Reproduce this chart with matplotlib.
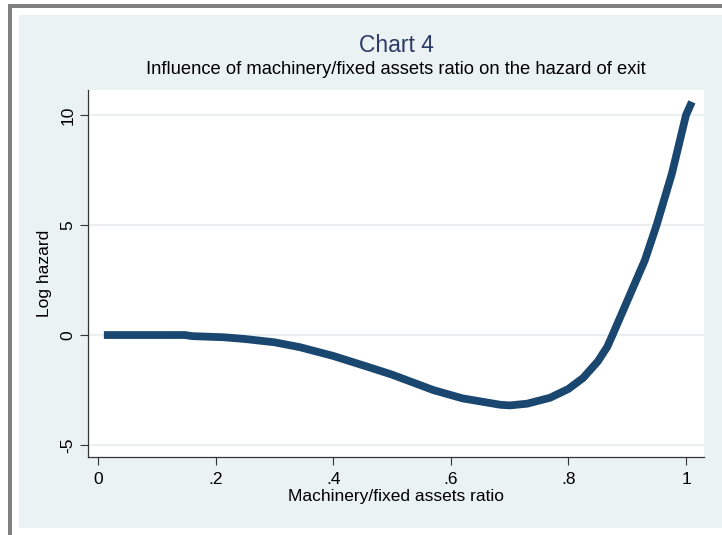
import numpy as np
import matplotlib.pyplot as plt
from matplotlib.patches import Rectangle

# datos (ratio maquinaria / activos fijos vs log hazard)
ratio = [0.01, 0.05, 0.10, 0.148, 0.16, 0.213, 0.25, 0.30, 0.343, 0.40, 0.457,
         0.50, 0.57, 0.62, 0.684, 0.70, 0.73, 0.769, 0.80, 0.825, 0.85, 0.866,
         0.875, 0.908, 0.93, 0.95, 0.976, 1.00, 1.01]
log_hazard = [0.0, 0.0, 0.0, 0.0, -0.05, -0.1, -0.18, -0.33, -0.55, -0.95, -1.43,
              -1.8, -2.5, -2.88, -3.17, -3.2, -3.12, -2.85, -2.45, -1.95, -1.2, -0.54,
              0.0, 2.04, 3.4, 5.0, 7.34, 10.0, 10.6]

x_ticks = [0, 0.2, 0.4, 0.6, 0.8, 1.0]
x_tick_labels = ['0', '.2', '.4', '.6', '.8', '1']
y_ticks = [-5, 0, 5, 10]

plt.rcParams['font.family'] = ['Liberation Sans', 'DejaVu Sans']

W, H = 722, 535
fig = plt.figure(figsize=(W / 100, H / 100), dpi=100)
fig.patch.set_facecolor('white')

# marco gris y fondo azul claro (coordenadas en pixeles)
def px_rect(x0, y0, x1, y1, color):
    fig.patches.append(Rectangle((x0 / W, 1 - y1 / H), (x1 - x0) / W, (y1 - y0) / H,
                                 transform=fig.transFigure, color=color, lw=0, zorder=-5))

px_rect(19, 15, 722, 528, '#eaf2f3')
px_rect(8, 4, 722, 8, '#808080')
px_rect(8, 4, 12, 535, '#808080')

ax = fig.add_axes([88 / W, 1 - 457 / H, (704 - 88) / W, (457 - 90) / H])
ax.set_zorder(5)
ax.set_facecolor('white')

ax.plot(ratio, log_hazard, color='#1a476f', lw=5.6, solid_capstyle='butt',
        solid_joinstyle='round', zorder=3)

ax.set_xlim(-0.017, 1.0306)
ax.set_ylim(-5.545, 11.14)
ax.set_xticks(x_ticks)
ax.set_xticklabels(x_tick_labels)
ax.set_yticks(y_ticks)
ax.set_yticklabels([str(v) for v in y_ticks], rotation=90, va='center')
ax.grid(axis='y', color='#e6eeef', lw=1.2, zorder=1)

for s in ['top', 'right']:
    ax.spines[s].set_visible(False)
for s in ['left', 'bottom']:
    ax.spines[s].set_color('#333333')
    ax.spines[s].set_linewidth(0.9)
ax.tick_params(direction='out', length=6, width=0.8, color='#333333', labelsize=12.5, pad=3)
ax.tick_params(axis='x', pad=5)

fig.text(396 / W, 1 - 497 / H, 'Machinery/fixed assets ratio', ha='center', va='center', fontsize=12.5)
ax.set_ylabel('Log hazard', fontsize=12.5, labelpad=6)

fig.text(396 / W, 1 - 46 / H, 'Chart 4', ha='center', va='center', fontsize=16.5, color='#2b3a67')
fig.text(396 / W, 1 - 69 / H, 'Influence of machinery/fixed assets ratio on the hazard of exit',
         ha='center', va='center', fontsize=13.2, color='black')

fig.savefig('out.png', dpi=100)
